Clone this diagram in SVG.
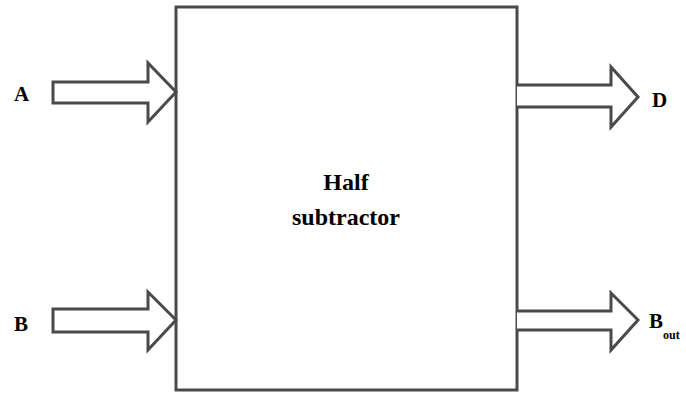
<svg xmlns="http://www.w3.org/2000/svg" width="686" height="395" viewBox="0 0 686 395">
<style>
.arrow{fill:#fff;stroke:#4a4a4a;stroke-width:3;stroke-linejoin:miter}
.box{fill:#fff;stroke:#4a4a4a;stroke-width:3}
.lbl{font-family:'Times New Roman','Liberation Serif',Times,'DejaVu Serif',serif;font-weight:bold;fill:#000}
</style>
<rect width="686" height="395" fill="#fff"/>
<g id="subtractor">
<rect class="box" x="176" y="7" width="341" height="383"/>
<text class="lbl" x="346" y="190" font-size="24" text-anchor="middle">Half</text>
<text class="lbl" x="346" y="225" font-size="24" text-anchor="middle">subtractor</text>
</g>
<g id="connectors">
<path class="arrow" d="M53,82 L148,82 L148,63 L176,92 L148,122 L148,103 L53,103 Z"/>
<path class="arrow" d="M53,309 L148,309 L148,292 L176,320 L148,350 L148,332 L53,332 Z"/>
<path class="arrow" d="M517,85 L611,85 L611,67 L638,97 L611,127 L611,107 L517,107"/>
<path class="arrow" d="M517,311 L611,311 L611,293 L638,320 L611,350 L611,330 L517,330"/>
</g>
<g id="input-A"><text class="lbl" x="14" y="101" font-size="21">A</text></g>
<g id="input-B"><text class="lbl" x="14" y="331" font-size="21">B</text></g>
<g id="output-D"><text class="lbl" x="652" y="107" font-size="21">D</text></g>
<g id="output-Bout"><text class="lbl" x="649" y="328" font-size="21">B<tspan font-size="12" dy="11">out</tspan></text></g>
</svg>
